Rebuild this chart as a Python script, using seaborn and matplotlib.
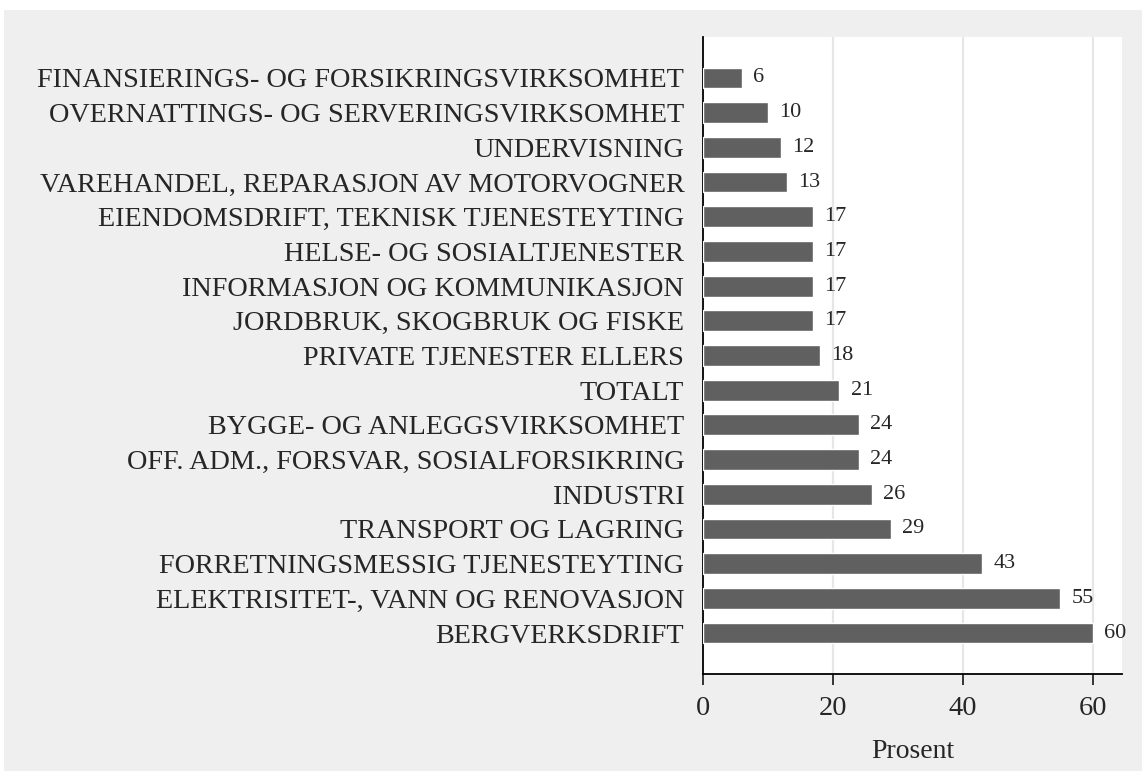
import seaborn as sns
import pandas as pd
import matplotlib.pyplot as plt
from matplotlib.patches import Rectangle

naeringer = ["FINANSIERINGS- OG FORSIKRINGSVIRKSOMHET",
             "OVERNATTINGS- OG SERVERINGSVIRKSOMHET",
             "UNDERVISNING",
             "VAREHANDEL, REPARASJON AV MOTORVOGNER",
             "EIENDOMSDRIFT, TEKNISK TJENESTEYTING",
             "HELSE- OG SOSIALTJENESTER",
             "INFORMASJON OG KOMMUNIKASJON",
             "JORDBRUK, SKOGBRUK OG FISKE",
             "PRIVATE TJENESTER ELLERS",
             "TOTALT",
             "BYGGE- OG ANLEGGSVIRKSOMHET",
             "OFF. ADM., FORSVAR, SOSIALFORSIKRING",
             "INDUSTRI",
             "TRANSPORT OG LAGRING",
             "FORRETNINGSMESSIG TJENESTEYTING",
             "ELEKTRISITET-, VANN OG RENOVASJON",
             "BERGVERKSDRIFT"]
prosent = [6, 10, 12, 13, 17, 17, 17, 17, 18, 21, 24, 24, 26, 29, 43, 55, 60]
xticks = [0, 20, 40, 60]

df = pd.DataFrame({"Naering": naeringer, "Prosent": prosent})

sns.set_style("white")
plt.rcParams['font.family'] = ['Liberation Serif', 'DejaVu Serif']

fig = plt.figure(figsize=(11.42, 7.71), dpi=100)
fig.patch.set_facecolor("white")
# grey panel behind everything
fig.patches.append(Rectangle((4 / 1142, 0), 1, 1 - 10 / 771, transform=fig.transFigure,
                             facecolor="#efefef", edgecolor="none", zorder=-10))

ax = fig.add_axes([703 / 1142, 1 - 674 / 771, (1122 - 703) / 1142, (674 - 37) / 771])
ax.set_facecolor("white")

sns.barplot(data=df, x="Prosent", y="Naering", color="#606060", saturation=1,
            width=0.6, ax=ax, zorder=3)

ax.set_xlim(0, 64.5)
ax.set_ylim(16 + 1.18, -1.18)
ax.set_xticks(xticks)
ax.grid(axis="x", color="#e6e6e6", linewidth=1.6, zorder=0)
ax.set_axisbelow(True)

for s in ["top", "right"]:
    ax.spines[s].set_visible(False)
ax.spines["left"].set_color("black")
ax.spines["bottom"].set_color("black")
ax.spines["left"].set_linewidth(1.3)
ax.spines["bottom"].set_linewidth(1.3)

ax.tick_params(axis="x", bottom=True, length=8, width=1.3, labelsize=20.5, pad=8)
ax.tick_params(axis="y", left=False, labelsize=20.3, pad=10)
ax.set_ylabel("")
ax.set_xlabel("Prosent", fontsize=20, labelpad=13)

for c in ax.containers:
    ax.bar_label(c, fmt="%d", padding=8, fontsize=16)

fig.savefig("out.png", dpi=100, facecolor=fig.get_facecolor())
